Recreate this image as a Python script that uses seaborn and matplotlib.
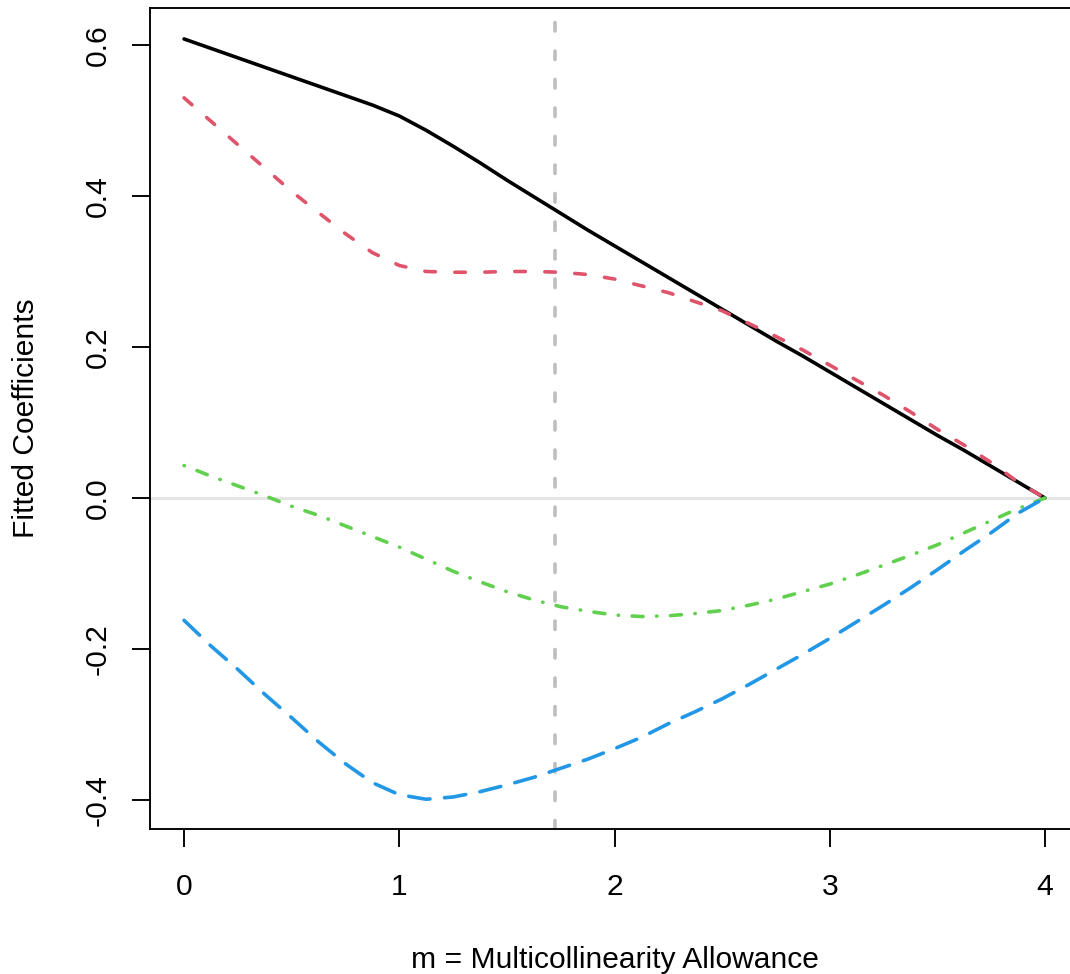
import matplotlib
matplotlib.use("Agg")
import matplotlib.pyplot as plt
import seaborn as sns

# Shrinkage path: fitted coefficients against the multicollinearity allowance m
m_grid = [0.0, 0.125, 0.25, 0.375, 0.5, 0.625, 0.75, 0.875,
          1.0, 1.125, 1.25, 1.375, 1.5, 1.625, 1.75, 1.875,
          2.0, 2.125, 2.25, 2.375, 2.5, 2.625, 2.75, 2.875,
          3.0, 3.125, 3.25, 3.375, 3.5, 3.625, 3.75, 3.875, 4.0]

coef_1 = [0.608, 0.5955, 0.583, 0.5705, 0.558, 0.5455, 0.533, 0.5205,
          0.506, 0.487, 0.466, 0.444, 0.421, 0.399, 0.377, 0.355,
          0.334, 0.313, 0.292, 0.271, 0.250, 0.229, 0.208, 0.188,
          0.167, 0.146, 0.125, 0.104, 0.083, 0.063, 0.042, 0.021, 0.0]

coef_2 = [0.530, 0.499, 0.468, 0.437, 0.406, 0.378, 0.350, 0.325,
          0.308, 0.300, 0.299, 0.299, 0.300, 0.300, 0.299, 0.296,
          0.290, 0.281, 0.272, 0.260, 0.248, 0.231, 0.214, 0.196,
          0.176, 0.156, 0.136, 0.114, 0.091, 0.070, 0.047, 0.021, 0.0]

coef_3 = [0.043, 0.029, 0.016, 0.003, -0.011, -0.023, -0.037, -0.051,
          -0.065, -0.081, -0.097, -0.111, -0.124, -0.135, -0.144, -0.150,
          -0.155, -0.157, -0.156, -0.153, -0.149, -0.142, -0.134, -0.124,
          -0.114, -0.102, -0.089, -0.076, -0.062, -0.046, -0.030, -0.014, 0.0]

coef_4 = [-0.162, -0.196, -0.227, -0.260, -0.291, -0.323, -0.352, -0.377,
          -0.393, -0.399, -0.396, -0.389, -0.380, -0.370, -0.358, -0.346,
          -0.332, -0.317, -0.299, -0.283, -0.266, -0.247, -0.227, -0.207,
          -0.186, -0.164, -0.142, -0.119, -0.095, -0.070, -0.046, -0.020, 0.0]

m_selected = 1.725

x_ticks = [0, 1, 2, 3, 4]
x_tick_labels = ["0", "1", "2", "3", "4"]
y_ticks = [-0.4, -0.2, 0.0, 0.2, 0.4, 0.6]
y_tick_labels = ["-0.4", "-0.2", "0.0", "0.2", "0.4", "0.6"]

sns.set_style("ticks")
plt.rcParams["font.family"] = ["Liberation Sans", "DejaVu Sans"]
plt.rcParams["lines.scale_dashes"] = False
plt.rcParams["axes.unicode_minus"] = False

W, H = 1070, 974
fig = plt.figure(figsize=(W / 100, H / 100), dpi=100)
fig.patch.set_facecolor("white")

# axes box in pixels (left, top, right, bottom)
L, T, R, B = 149.6, 8.0, 1079.4, 829.0
ax = fig.add_axes([L / W, 1 - B / H, (R - L) / W, (B - T) / H])
ax.set_facecolor("white")

px = 0.72  # points per pixel at 100 dpi
lw = 3.6 * px
FS = 30 * px

# reference lines
ax.axhline(0.0, color="#E5E5E5", lw=3.2 * px, zorder=1)
vline = ax.axvline(m_selected, color="#BEBEBE", lw=lw, zorder=1.5)
vline.set_dash_capstyle("round")
vline.set_linestyle((0, (8.5 * px, 20 * px)))

series = [
    (coef_1, "black", None),
    (coef_2, "#DF536B", (0, (10.5 * px, 19.5 * px))),
    (coef_3, "#61D04F", (0, (0.4 * px, 13.5 * px, 11 * px, 13.5 * px))),
    (coef_4, "#2297E6", (0, (21.5 * px, 14.5 * px))),
]
for vals, col, style in series:
    sns.lineplot(x=m_grid, y=vals, ax=ax, color=col, lw=lw,
                 estimator=None, sort=False, zorder=3)
    line = ax.lines[-1]
    line.set_solid_capstyle("round")
    line.set_solid_joinstyle("round")
    line.set_dash_capstyle("round")
    if style is not None:
        line.set_linestyle(style)

ax.set_xlim(-0.16, 4.16)
ax.set_ylim(-0.4384, 0.649)

ax.set_xticks(x_ticks, labels=x_tick_labels)
ax.set_yticks(y_ticks, labels=y_tick_labels)
for t in ax.get_yticklabels():
    t.set_rotation(90)
    t.set_va("center")

for s in ax.spines.values():
    s.set_visible(True)
    s.set_color("black")
    s.set_linewidth(1.9 * px)

ax.tick_params(axis="both", direction="out", length=18 * px, width=1.9 * px,
               color="black", labelsize=FS, labelcolor="black")
ax.tick_params(axis="x", pad=26 * px)
ax.tick_params(axis="y", pad=20 * px)

ax.set_xlabel("m = Multicollinearity Allowance", fontsize=FS, color="black")
ax.set_ylabel("Fitted Coefficients", fontsize=FS, color="black")
ax.xaxis.set_label_coords(0.5, (B - 946) / (B - T))
ax.yaxis.set_label_coords((39.6 - L) / (R - L), 0.5)

fig.savefig("out.png", dpi=100, facecolor="white")
